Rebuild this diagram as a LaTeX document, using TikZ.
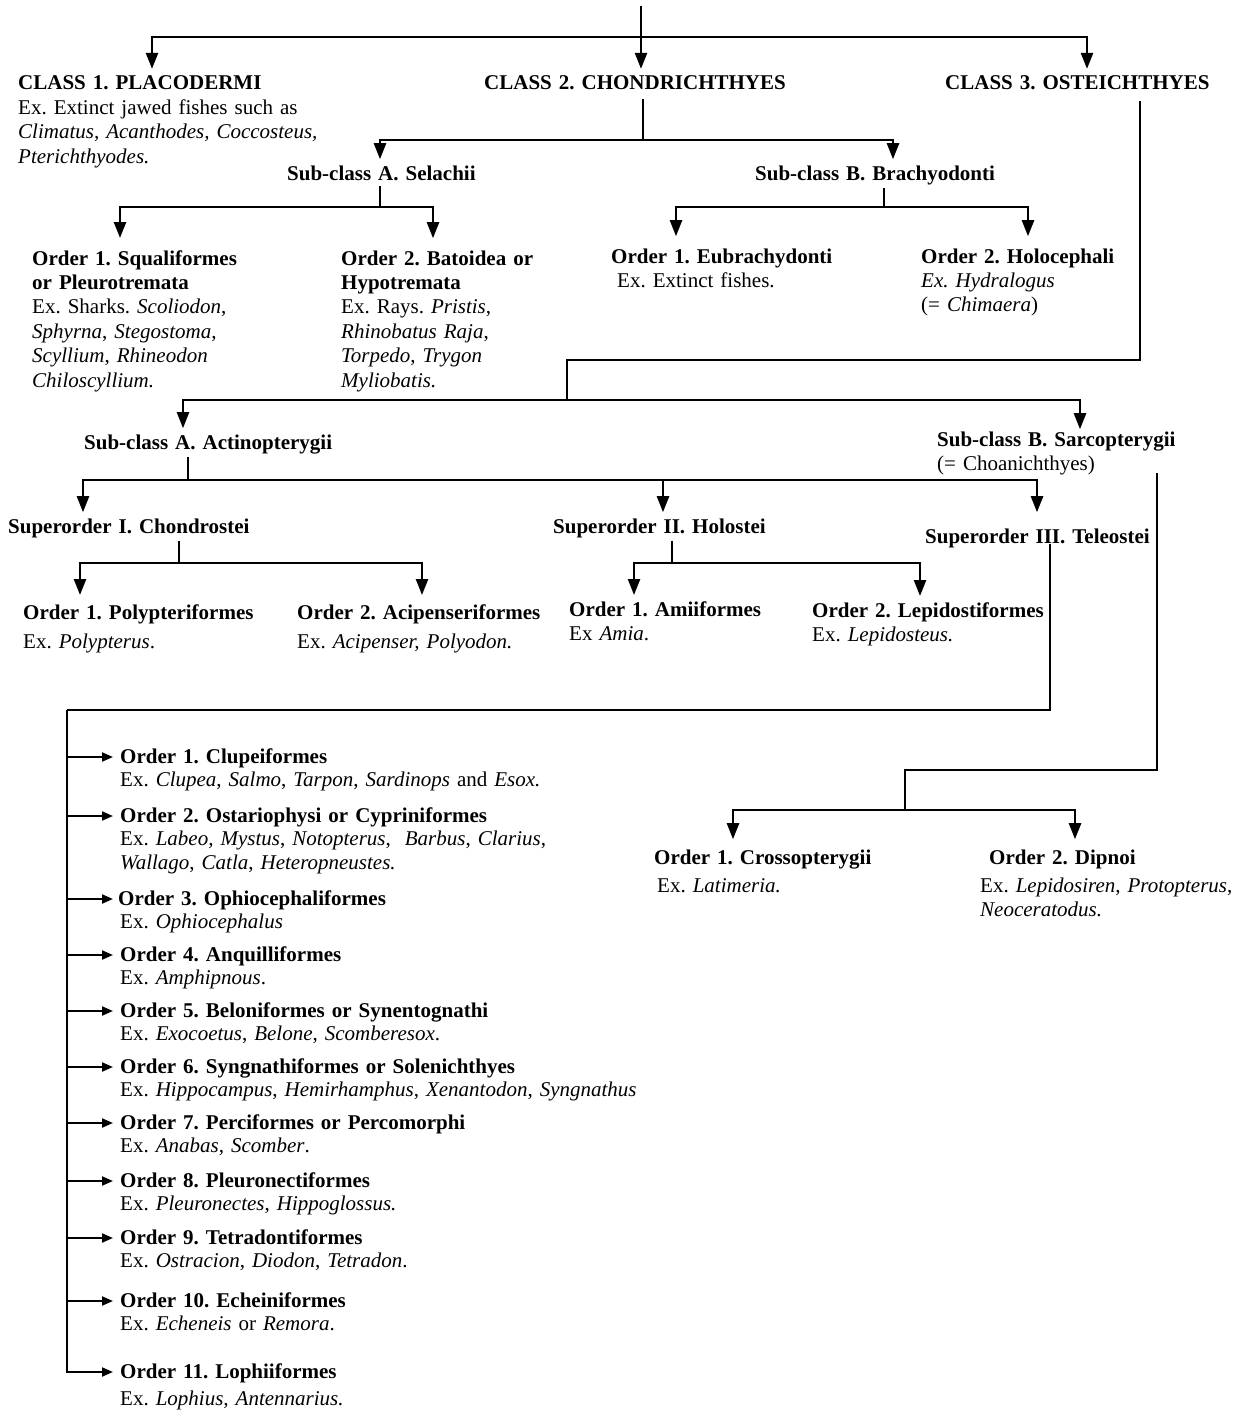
\documentclass[tikz,border=0pt]{standalone}
\usepackage{fontspec}
\setmainfont{Liberation Serif}
\usetikzlibrary{arrows.meta}
\frenchspacing
\begin{document}
\begin{tikzpicture}[x=1pt,y=-1pt,
  ln/.style={line width=2.4pt},
  arr/.style={line width=2.4pt,-{Triangle[width=12pt,length=16pt]}},
  sarr/.style={line width=2pt,-{Triangle[width=9pt,length=11pt]}},
  txt/.style={anchor=base west,inner sep=0pt,align=left,text width=600pt,font=\fontsize{21}{24.4}\selectfont\frenchspacing},
  lst/.style={txt,font=\fontsize{21}{23.5}\selectfont\frenchspacing}]
\useasboundingbox (0,0) rectangle (1244,1410);

% ---------- nodes ----------
\node[txt] (c1) at (18,90) {\textbf{CLASS 1. PLACODERMI}\\Ex. Extinct jawed fishes such as\\\textit{Climatus, Acanthodes, Coccosteus,}\\\textit{Pterichthyodes.}};
\node[txt] (c2) at (484,90) {\textbf{CLASS 2. CHONDRICHTHYES}};
\node[txt] (c3) at (945,90) {\textbf{CLASS 3. OSTEICHTHYES}};

\node[txt] (sA) at (287,180) {\textbf{Sub-class A. Selachii}};
\node[txt] (sB) at (755,180) {\textbf{Sub-class B. Brachyodonti}};

\node[txt] (o1) at (32,265) {\textbf{Order 1. Squaliformes}\\\textbf{or Pleurotremata}\\Ex. Sharks. \textit{Scoliodon},\\\textit{Sphyrna}, \textit{Stegostoma},\\\textit{Scyllium}, \textit{Rhineodon}\\\textit{Chiloscyllium.}};
\node[txt] (o2) at (341,265) {\textbf{Order 2. Batoidea or}\\\textbf{Hypotremata}\\Ex. Rays. \textit{Pristis},\\\textit{Rhinobatus Raja},\\\textit{Torpedo}, \textit{Trygon}\\\textit{Myliobatis.}};
\node[txt] (b1) at (611,263) {\textbf{Order 1. Eubrachydonti}\\\hspace*{6pt}Ex. Extinct fishes.};
\node[txt] (b2) at (921,263) {\textbf{Order 2. Holocephali}\\\textit{Ex. Hydralogus}\\(= \textit{Chimaera})};

\node[txt] (aA) at (84,449) {\textbf{Sub-class A. Actinopterygii}};
\node[txt] (aB) at (937,446) {\textbf{Sub-class B. Sarcopterygii}\\(= Choanichthyes)};

\node[txt] (sup1) at (8,533) {\textbf{Superorder I. Chondrostei}};
\node[txt] (sup2) at (553,533) {\textbf{Superorder II. Holostei}};
\node[txt] (sup3) at (925,543) {\textbf{Superorder III. Teleostei}};

\node[txt] (p1) at (23,619) {\textbf{Order 1. Polypteriformes}\\[5pt]Ex. \textit{Polypterus}.};
\node[txt] (p2) at (297,619) {\textbf{Order 2. Acipenseriformes}\\[5pt]Ex. \textit{Acipenser, Polyodon.}};
\node[txt] (h1) at (569,616) {\textbf{Order 1. Amiiformes}\\Ex \textit{Amia}.};
\node[txt] (h2) at (812,617) {\textbf{Order 2. Lepidostiformes}\\Ex. \textit{Lepidosteus.}};

\node[lst] (t1) at (120,763) {\textbf{Order 1. Clupeiformes}\\Ex. \textit{Clupea}, \textit{Salmo}, \textit{Tarpon}, \textit{Sardinops} and \textit{Esox.}};
\node[lst] (t2) at (120,822) {\textbf{Order 2. Ostariophysi or Cypriniformes}\\Ex. \textit{Labeo, Mystus}, \textit{Notopterus}, \ \textit{Barbus}, \textit{Clarius},\\\textit{Wallago}, \textit{Catla}, \textit{Heteropneustes.}};
\node[lst] (t3) at (118,905) {\textbf{Order 3. Ophiocephaliformes}\\\hspace*{2pt}Ex. \textit{Ophiocephalus}};
\node[lst] (t4) at (120,961) {\textbf{Order 4. Anquilliformes}\\Ex. \textit{Amphipnous}.};
\node[lst] (t5) at (120,1017) {\textbf{Order 5. Beloniformes or Synentognathi}\\Ex. \textit{Exocoetus}, \textit{Belone}, \textit{Scomberesox}.};
\node[lst] (t6) at (120,1073) {\textbf{Order 6. Syngnathiformes or Solenichthyes}\\Ex. \textit{Hippocampus}, \textit{Hemirhamphus}, \textit{Xenantodon}, \textit{Syngnathus}};
\node[lst] (t7) at (120,1129) {\textbf{Order 7. Perciformes or Percomorphi}\\Ex. \textit{Anabas}, \textit{Scomber}.};
\node[lst] (t8) at (120,1187) {\textbf{Order 8. Pleuronectiformes}\\Ex. \textit{Pleuronectes}, \textit{Hippoglossus.}};
\node[lst] (t9) at (120,1244) {\textbf{Order 9. Tetradontiformes}\\Ex. \textit{Ostracion}, \textit{Diodon}, \textit{Tetradon}.};
\node[lst] (t10) at (120,1307) {\textbf{Order 10. Echeiniformes}\\Ex. \textit{Echeneis} or \textit{Remora}.};
\node[lst] (t11) at (120,1378) {\textbf{Order 11. Lophiiformes}\\[4pt]Ex. \textit{Lophius, Antennarius.}};

\node[txt] (cr1) at (654,864) {\textbf{Order 1. Crossopterygii}\\[4pt]\hspace*{3pt}Ex. \textit{Latimeria.}};
\node[txt] (cr2) at (980,864) {\hspace*{9pt}\textbf{Order 2. Dipnoi}\\[4pt]Ex. \textit{Lepidosiren}, \textit{Protopterus},\\\textit{Neoceratodus.}};

% ---------- connectors ----------
\coordinate (top) at (641,6);
\coordinate (j0) at (641,37);
\draw[ln] (top) -- (j0);
\draw[arr] (j0) -| ([xshift=134pt,yshift=7pt]c1.north west);
\draw[arr] (j0) -- ([xshift=157pt,yshift=7pt]c2.north west);
\draw[arr] (j0) -| ([xshift=142pt,yshift=7pt]c3.north west);

\coordinate (j1) at (643,140);
\draw[ln] ([xshift=159pt,yshift=-9pt]c2.south west) -- (j1);
\draw[arr] (j1) -| ([xshift=93pt,yshift=6pt]sA.north west);
\draw[arr] (j1) -| ([xshift=138pt,yshift=6pt]sB.north west);

\coordinate (j2) at (380,207);
\draw[ln] ([xshift=93pt,yshift=-6pt]sA.south west) -- (j2);
\draw[arr] (j2) -| ([xshift=88pt,yshift=12pt]o1.north west);
\draw[arr] (j2) -| ([xshift=92pt,yshift=12pt]o2.north west);

\coordinate (j3) at (884,207);
\draw[ln] ([xshift=129pt,yshift=-3pt]sB.south west) -- (j3);
\draw[arr] (j3) -| ([xshift=65pt,yshift=12pt]b1.north west);
\draw[arr] (j3) -| ([xshift=107pt,yshift=12pt]b2.north west);

\coordinate (j4) at (1140,360);
\coordinate (j5) at (567,360);
\coordinate (j6) at (567,400);
\draw[ln] ([xshift=195pt,yshift=-11pt]c3.south west) -- (j4) -- (j5) -- (j6);
\draw[arr] (j6) -| ([xshift=99pt,yshift=6pt]aA.north west);
\draw[arr] (j6) -| ([xshift=143pt,yshift=2pt]aB.north west);

\coordinate (j7) at (188,480);
\draw[ln] ([xshift=104pt,yshift=-3pt]aA.south west) -- (j7);
\draw[arr] (j7) -| ([xshift=75pt,yshift=6pt]sup1.north west);
\draw[arr] (j7) -| ([xshift=110pt,yshift=6pt]sup2.north west);
\draw[arr] (j7) -| ([xshift=112pt,yshift=16pt]sup3.north west);

\coordinate (j8) at (179,563);
\draw[ln] ([xshift=171pt,yshift=-3pt]sup1.south west) -- (j8);
\draw[arr] (j8) -| ([xshift=57pt,yshift=9pt]p1.north west);
\draw[arr] (j8) -| ([xshift=125pt,yshift=9pt]p2.north west);

\coordinate (j9) at (672,563);
\draw[ln] ([xshift=119pt,yshift=-3pt]sup2.south west) -- (j9);
\draw[arr] (j9) -| ([xshift=65pt,yshift=6pt]h1.north west);
\draw[arr] (j9) -| ([xshift=108pt,yshift=6pt]h2.north west);

\coordinate (j10) at (1050,710);
\coordinate (j11) at (67,710);
\draw[ln] ([xshift=125pt,yshift=4pt]sup3.south west) -- (j10) -- (j11);
\foreach \t in {1,2,4,5,6,7,8,9,10,11}{
  \coordinate (a\t) at ([xshift=-7pt,yshift=6pt]t\t.base west);
}
\coordinate (a3) at ([xshift=-5pt,yshift=6pt]t3.base west);
\foreach \t in {1,...,10}{
  \draw[sarr] (a\t -| j11) -- (a\t);
}
\draw[sarr] (j11) |- (a11);

\coordinate (j12) at (1157,770);
\coordinate (j13) at (905,770);
\coordinate (j14) at (905,810);
\draw[ln] ([xshift=220pt,yshift=2pt]aB.south west) -- (j12) -- (j13) -- (j14);
\draw[arr] (j14) -| ([xshift=79pt,yshift=10pt]cr1.north west);
\draw[arr] (j14) -| ([xshift=95pt,yshift=10pt]cr2.north west);
\end{tikzpicture}
\end{document}
